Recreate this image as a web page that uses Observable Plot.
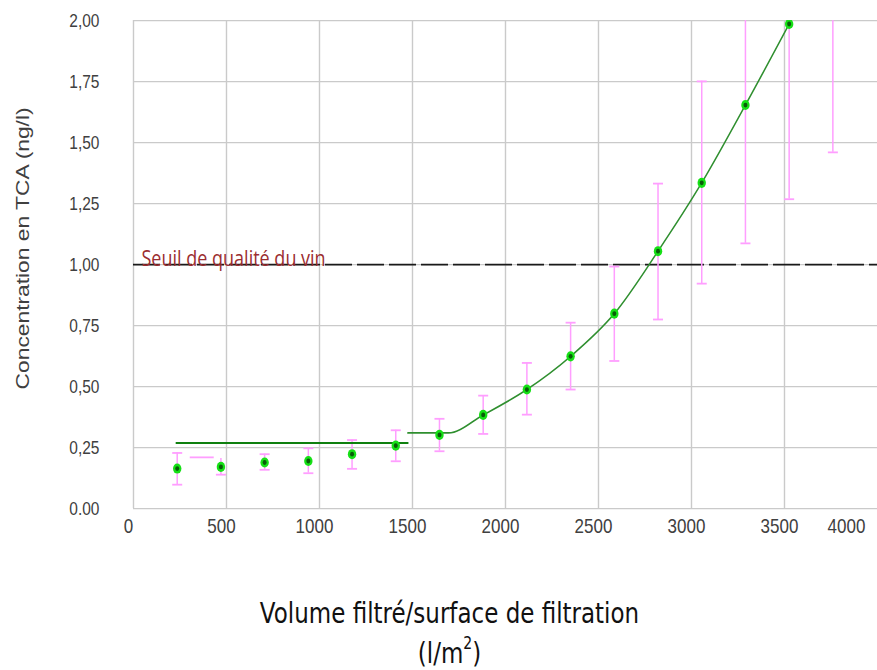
<!DOCTYPE html>
<html><head><meta charset="utf-8">
<script src="https://cdn.jsdelivr.net/npm/d3@7"></script>
<script src="https://cdn.jsdelivr.net/npm/@observablehq/plot@0.6"></script>
<style>
html,body{margin:0;padding:0;background:#fff;}
#wrap{width:877px;height:670px;}
#wrap svg{display:block;}
</style></head><body>
<div id="wrap"></div>
<script>
// ---- data ----
const xVals   = [235, 470, 705, 940, 1175, 1410, 1645, 1880, 2115, 2350, 2585, 2820, 3055, 3290, 3525, 3760];
const yVals   = [0.164, 0.171, 0.189, 0.195, 0.223, 0.258, 0.302, 0.384, 0.488, 0.624, 0.799, 1.055, 1.335, 1.654, 1.986, 2.3];
const errLow  = [0.098, 0.139, 0.159, 0.145, 0.163, 0.194, 0.235, 0.306, 0.385, 0.488, 0.605, 0.775, 0.922, 1.087, 1.268, 1.46];
const errHigh = [0.228, 0.205, 0.223, 0.247, 0.281, 0.321, 0.368, 0.463, 0.597, 0.762, 0.992, 1.332, 1.751, 2.4, 2.6, 2.8];
// misplaced top cap of the bar at x = 470
const misplacedCapBar = 470, misplacedCapX1 = 305, misplacedCapX2 = 434, misplacedCapY = 0.21;
// fitted lines
const fitAX = [230, 1475];
const fitAY = [0.269, 0.269];
const fitBX = [1475, 1693, 1880, 2115, 2350, 2585, 2820, 3055, 3290, 3525];
const fitBY = [0.31, 0.31, 0.384, 0.488, 0.624, 0.799, 1.055, 1.335, 1.654, 1.986];
const thresholdY = 1;
const thresholdLabel = "Seuil de qualité du vin";
const xTicks = [0, 500, 1000, 1500, 2000, 2500, 3000, 3500, 4000];
const yTicks = [0, 0.25, 0.5, 0.75, 1, 1.25, 1.5, 1.75, 2];
const yTickLabels = ["0.00", "0,25", "0,50", "0,75", "1,00", "1,25", "1,50", "1,75", "2,00"];
const yTitle = "Concentration en TCA (ng/l)";
const xTitleLine1 = "Volume filtré/surface de filtration";
const xTitleLine2 = ["(l/m", "2", ")"];

// ---- build ----
const pts = xVals.map((x, i) => ({x, y: yVals[i], lo: errLow[i], hi: errHigh[i]}));
const fitA = fitAX.map((x, i) => ({x, y: fitAY[i]}));
const fitB = fitBX.map((x, i) => ({x, y: fitBY[i]}));
const stray = [{x1: misplacedCapX1, x2: misplacedCapX2, y: misplacedCapY}];
const capSym = {draw(ctx) { ctx.moveTo(-5, 0); ctx.lineTo(5, 0); }};
const pink = "#ff9eff";
const gridC = "#cacaca";
const tickFont = "Liberation Sans, Arial, sans-serif";
const H = 558.33; // drawn at this height, then stretched to 670 like the reference

const chart = Plot.plot({
  width: 877, height: H,
  marginLeft: 133, marginRight: 0, marginTop: 16.67, marginBottom: 135,
  x: {domain: [0, 4000]},
  y: {domain: [0, 2]},
  style: {fontFamily: tickFont, fontSize: "16px", color: "#404040", background: "#fff"},
  marks: [
    Plot.ruleX(xTicks.slice(0, -1), {stroke: gridC, strokeWidth: 1.4}),
    Plot.ruleY(yTicks, {stroke: gridC, strokeWidth: 1.2}),
    Plot.ruleY([thresholdY], {stroke: "#1a1a1a", strokeWidth: 1.4, strokeDasharray: "27,5"}),
    Plot.text([thresholdLabel], {y: () => thresholdY, frameAnchor: "left", textAnchor: "start", lineAnchor: "bottom",
      dx: 8, dy: 1, fill: "#9b2d30", fontFamily: "Open Sans", fontSize: 18}),
    Plot.ruleX(pts, {x: "x", y1: "lo", y2: "hi", stroke: pink, strokeWidth: 1.5, clip: true}),
    Plot.dot(pts, {x: "x", y: "lo", symbol: capSym, fill: "none", stroke: pink, strokeWidth: 1.5, clip: true}),
    Plot.dot(pts.filter(d => d.x !== misplacedCapBar), {x: "x", y: "hi", symbol: capSym, fill: "none", stroke: pink, strokeWidth: 1.5, clip: true}),
    Plot.ruleY(stray, {y: "y", x1: "x1", x2: "x2", stroke: pink, strokeWidth: 1.5}),
    Plot.line(fitA, {x: "x", y: "y", stroke: "#0f800f", strokeWidth: 1.6}),
    Plot.line(fitB, {x: "x", y: "y", stroke: "#2f8f2f", strokeWidth: 1.4, curve: "monotone-x"}),
    Plot.dot(pts, {x: "x", y: "y", r: 4.2, fill: "#16e016", clip: true}),
    Plot.dot(pts, {x: "x", y: "y", r: 2, fill: "#0a5c0a", clip: true}),
    Plot.axisY(yTicks, {tickSize: 0, tickPadding: 34, label: null, fontSize: 15.5,
      tickFormat: d => yTickLabels[yTicks.indexOf(d)]}),
    Plot.axisX(xTicks.slice(0, -1), {tickSize: 0, tickPadding: 8, dx: -5, label: null, fontSize: 17, tickFormat: d => String(d)}),
    Plot.axisX(xTicks.slice(-1), {tickSize: 0, tickPadding: 8, dx: -31, label: null, fontSize: 17, tickFormat: d => String(d)})
  ]
});
const svg = d3.select(chart);
svg.append("text")
  .attr("transform", "translate(22,207) rotate(-90)")
  .attr("text-anchor", "middle")
  .attr("dominant-baseline", "central")
  .attr("font-family", tickFont)
  .attr("font-size", 19)
  .attr("fill", "#404040")
  .text(yTitle);
svg.append("text")
  .attr("x", 449.5).attr("y", 511)
  .attr("text-anchor", "middle")
  .attr("dominant-baseline", "central")
  .attr("font-family", "DejaVu Sans, sans-serif")
  .attr("font-size", 23)
  .attr("fill", "#111")
  .text(xTitleLine1);
const t2 = svg.append("text")
  .attr("x", 449.5).attr("y", 544)
  .attr("text-anchor", "middle")
  .attr("dominant-baseline", "central")
  .attr("font-family", "DejaVu Sans, sans-serif")
  .attr("font-size", 23)
  .attr("fill", "#111");
t2.append("tspan").text(xTitleLine2[0]);
t2.append("tspan").attr("font-size", 14).attr("dy", -8).text(xTitleLine2[1]);
t2.append("tspan").attr("dy", 8).text(xTitleLine2[2]);
// stretch vertically inside the SVG itself
chart.setAttribute("viewBox", `0 0 877 ${H}`);
chart.setAttribute("preserveAspectRatio", "none");
chart.setAttribute("height", 670);
chart.style.height = "670px";
chart.style.width = "877px";
chart.style.maxWidth = "none";
document.getElementById("wrap").appendChild(chart);
</script>
</body></html>
